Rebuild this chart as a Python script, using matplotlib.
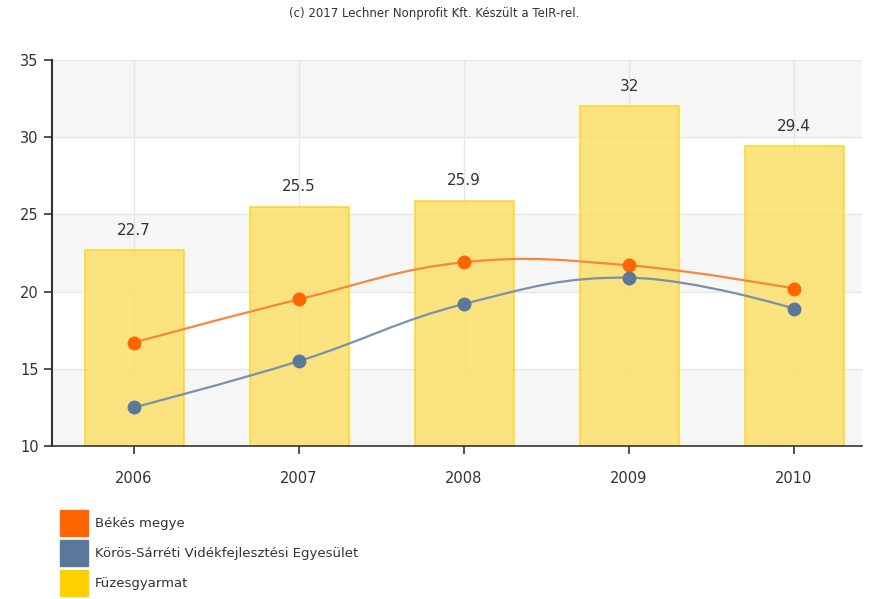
import numpy as np
import matplotlib
matplotlib.use("Agg")
import matplotlib.pyplot as plt
from matplotlib.path import Path
from matplotlib.patches import PathPatch, Rectangle

years = ["2006", "2007", "2008", "2009", "2010"]
fuzes = [22.7, 25.5, 25.9, 32, 29.4]
bekes = [16.7, 19.5, 21.9, 21.7, 20.2]
koros = [12.5, 15.5, 19.2, 20.9, 18.9]
names = ["Békés megye", "Körös-Sárréti Vidékfejlesztési Egyesület", "Füzesgyarmat"]
colors = ["#ff6600", "#5b7799", "#ffd000"]


def spline_path(xs, ys, smoothing=1.5):
    # highcharts-like spline: cubic bezier through all points (no clamping)
    n = len(xs)
    lc, rc = [None] * n, [None] * n
    d = smoothing + 1
    for i in range(1, n - 1):
        lx = (smoothing * xs[i] + xs[i - 1]) / d
        ly = (smoothing * ys[i] + ys[i - 1]) / d
        rx = (smoothing * xs[i] + xs[i + 1]) / d
        ry = (smoothing * ys[i] + ys[i + 1]) / d
        corr = (ry - ly) * (rx - xs[i]) / (rx - lx) + ys[i] - ry
        lc[i] = (lx, ly + corr); rc[i] = (rx, ry + corr)
    verts = [(xs[0], ys[0])]; codes = [Path.MOVETO]
    for i in range(1, n):
        c1 = rc[i - 1] or (xs[i - 1], ys[i - 1])
        c2 = lc[i] or (xs[i], ys[i])
        verts += [c1, c2, (xs[i], ys[i])]
        codes += [Path.CURVE4] * 3
    return Path(verts, codes)


fig = plt.figure(figsize=(8.69, 5.99), dpi=100)
ax = fig.add_axes([52 / 869, 153 / 599, 810 / 869, 386 / 599])
x = np.arange(len(years))

ax.set_xlim(-0.497, 4.412)
ax.set_ylim(10, 35)
# alternating bands
for lo in (10, 20, 30):
    ax.axhspan(lo, lo + 5, color="#f6f6f6", zorder=0, lw=0)
for yv in (15, 20, 25, 30, 35):
    ax.axhline(yv, color="#e6e6e6", lw=1, zorder=0.5)
for xv in x:
    ax.axvline(xv, color="#e6e6e6", lw=1, zorder=0.5)

ax.bar(x, fuzes, width=0.6, bottom=0, color="#fbe06a", alpha=0.85,
       edgecolor="#ffd21a", lw=1.2, zorder=2)
for xi, v in zip(x, fuzes):
    ax.text(xi, v + 0.8, f"{v:g}", ha="center", va="bottom", fontsize=11, color="#333333", zorder=5)

for vals, c, lc in ((bekes, colors[0], "#f7873a"), (koros, colors[1], "#7a90ab")):
    ax.add_patch(PathPatch(spline_path(list(x.astype(float)), vals), fill=False, edgecolor=lc, lw=1.6, zorder=3))
    ax.plot(x, vals, "o", color=c, ms=9, zorder=4)

ax.set_xticks(x)
ax.set_xticklabels(years)
ax.set_yticks([10, 15, 20, 25, 30, 35])
for s in ("top", "right"):
    ax.spines[s].set_visible(False)
ax.spines["left"].set_color("#333333"); ax.spines["left"].set_linewidth(1.5)
ax.spines["bottom"].set_color("#333333"); ax.spines["bottom"].set_linewidth(1.2)
ax.tick_params(axis="both", labelsize=10.5, colors="#333333", length=6, width=1.2)
ax.tick_params(axis="x", pad=12)

fig.text(0.5, 1 - 14 / 599, "(c) 2017 Lechner Nonprofit Kft. Készült a TeIR-rel.",
         ha="center", va="center", fontsize=8.5, color="#333333")

# legend
for i, (nm, c) in enumerate(zip(names, colors)):
    yc = 523 + 30 * i
    fig.patches.append(Rectangle((60 / 869, 1 - (yc + 13) / 599), 28 / 869, 26 / 599,
                                 transform=fig.transFigure, color=c, figure=fig))
    fig.text(95 / 869, 1 - yc / 599, nm, ha="left", va="center", fontsize=9.5, color="#333333")

fig.savefig("out.png", dpi=100)
